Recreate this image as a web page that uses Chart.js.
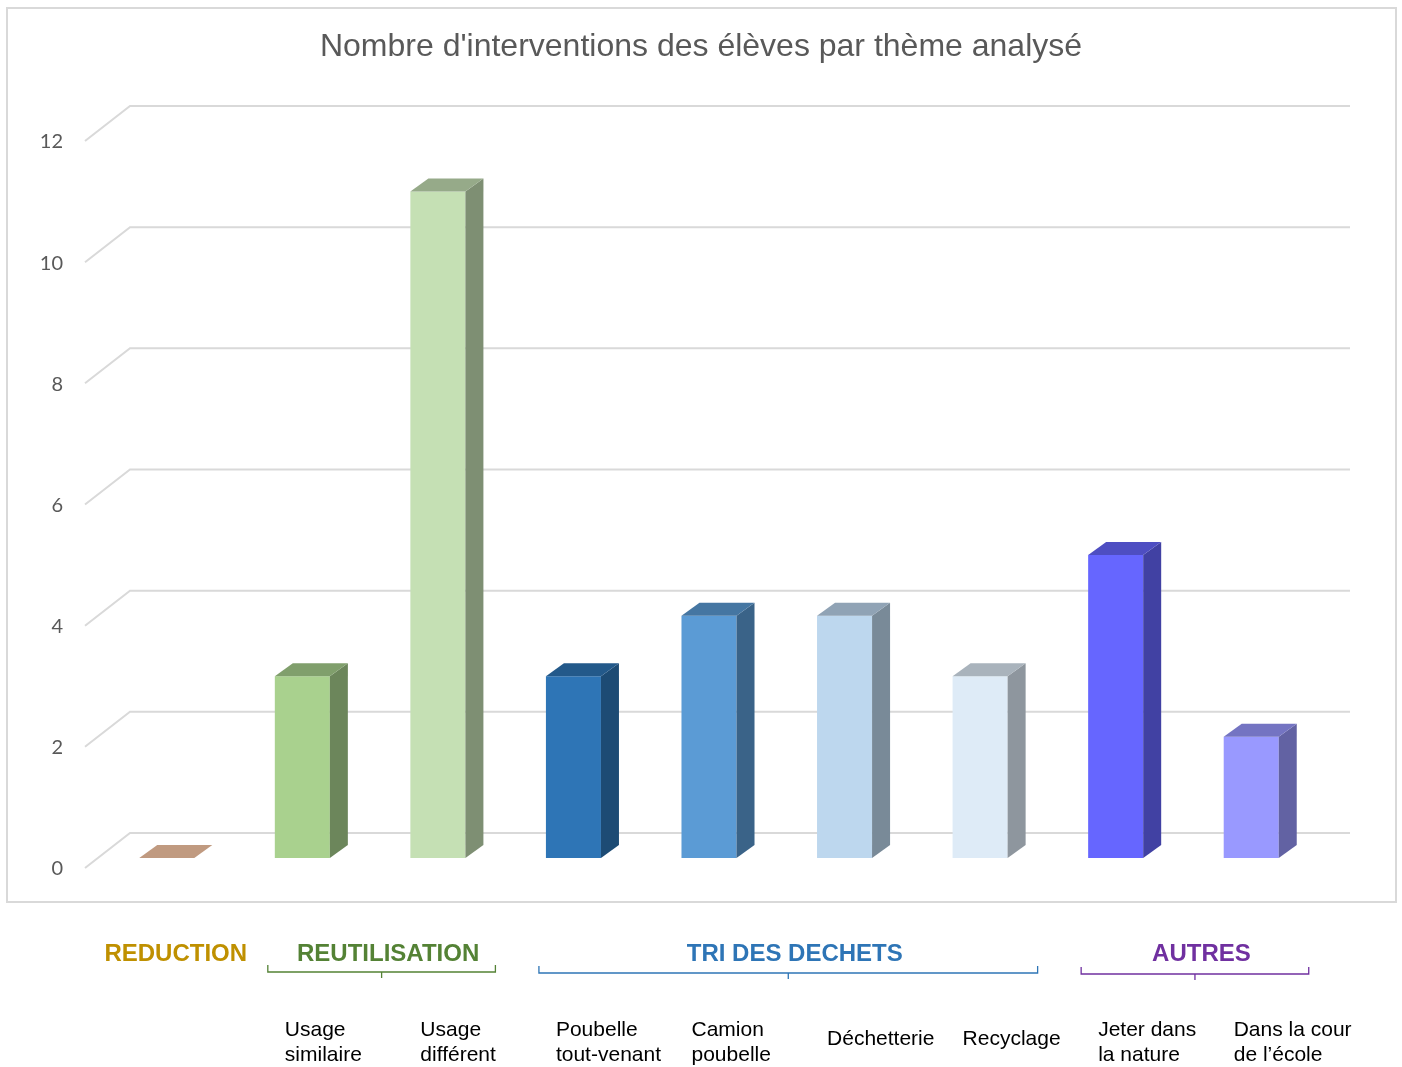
<!DOCTYPE html>
<html>
<head>
<meta charset="utf-8">
<script src="https://cdn.jsdelivr.net/npm/chart.js@4"></script>
<style>
html,body{margin:0;padding:0;background:#fff;}
canvas{display:block;}
</style>
</head>
<body>
<canvas id="c" width="1402" height="1067"></canvas>
<script>
// ---- data ----
const chartTitle = "Nombre d'interventions des élèves par thème analysé";
const categories = [
  [],
  ["Usage", "similaire"],
  ["Usage", "différent"],
  ["Poubelle", "tout-venant"],
  ["Camion", "poubelle"],
  ["Déchetterie"],
  ["Recyclage"],
  ["Jeter dans", "la nature"],
  ["Dans la cour", "de l’école"]
];
const values = [0, 3, 11, 3, 4, 4, 3, 5, 2];
const groupNames = ["REDUCTION", "REUTILISATION", "TRI DES DECHETS", "AUTRES"];
const groupFirst = [0, 1, 3, 7];
const groupLast  = [0, 2, 6, 8];
const yTickStep = 2;
const yMax = 12;

// ---- styles ----
const frontColors = ["#C09A80", "#A9D18E", "#C5E0B4", "#2E75B6", "#5B9BD5", "#BDD7EE", "#DEEBF7", "#6666FF", "#9999FF"];
const groupColors = ["#BF9000", "#548235", "#2E75B6", "#7030A0"];
const groupBrace  = [false, true, true, true];

function shade(hex, f) {
  const n = parseInt(hex.slice(1), 16);
  const r = Math.round(((n >> 16) & 255) * f), g = Math.round(((n >> 8) & 255) * f), b = Math.round((n & 255) * f);
  return "rgb(" + r + "," + g + "," + b + ")";
}

const DX = 18, DY = -13;          // bar depth
const WX = 45, WY = -35;          // wall depth (front label point -> back wall)
const FRONT_OFF = 10;             // front floor edge below bar base

const threeD = {
  id: "threeD",
  beforeDatasetsDraw(chart) {
    const ctx = chart.ctx;
    const ys = chart.scales.y;
    ctx.save();
    // outer border
    ctx.strokeStyle = "#d9d9d9";
    ctx.lineWidth = 2;
    ctx.strokeRect(7, 8, 1389, 894);
    // title
    ctx.fillStyle = "#595959";
    ctx.font = "32px 'Liberation Sans', Arial, sans-serif";
    ctx.textAlign = "center";
    ctx.textBaseline = "middle";
    ctx.fillText(chartTitle, 701, 47);
    // walls grid
    const left = chart.chartArea.left - 14;
    const right = chart.chartArea.right + 31;
    ctx.strokeStyle = "#d9d9d9";
    ctx.lineWidth = 2;
    ys.ticks.forEach(t => {
      const yf = ys.getPixelForValue(t.value) + FRONT_OFF;
      const x0 = left, x1 = left + WX, yb = yf + WY;
      ctx.beginPath();
      ctx.moveTo(x0, yf);
      ctx.lineTo(x1, yb);
      ctx.lineTo(right, yb);
      ctx.stroke();
    });
    // tick labels
    ctx.fillStyle = "#595959";
    ctx.font = "20px Lato, 'Open Sans', sans-serif";
    ctx.textAlign = "right";
    ys.ticks.forEach(t => {
      const yf = ys.getPixelForValue(t.value) + FRONT_OFF;
      ctx.fillText(String(t.value), 63, yf + 1);
    });
    ctx.restore();
  },
  afterDatasetsDraw(chart) {
    const ctx = chart.ctx;
    const meta = chart.getDatasetMeta(0);
    ctx.save();
    meta.data.forEach((bar, i) => {
      const p = bar.getProps(["x", "y", "base", "width"], true);
      const l = p.x - p.width / 2, r = p.x + p.width / 2;
      const top = Math.min(p.y, p.base), base = p.base;
      const fc = frontColors[i];
      // side
      if (base - top > 0.5) {
        ctx.fillStyle = shade(fc, 0.64);
        ctx.beginPath();
        ctx.moveTo(r, top);
        ctx.lineTo(r + DX, top + DY);
        ctx.lineTo(r + DX, base + DY);
        ctx.lineTo(r, base);
        ctx.closePath();
        ctx.fill();
      }
      // top
      ctx.fillStyle = (base - top > 0.5) ? shade(fc, 0.76) : fc;
      ctx.beginPath();
      ctx.moveTo(l, top);
      ctx.lineTo(l + DX, top + DY);
      ctx.lineTo(r + DX, top + DY);
      ctx.lineTo(r, top);
      ctx.closePath();
      ctx.fill();
    });

    // group labels and braces
    ctx.textAlign = "center";
    ctx.textBaseline = "middle";
    groupNames.forEach((name, g) => {
      const a = meta.data[groupFirst[g]], b = meta.data[groupLast[g]];
      const gl = a.x - a.width / 2, gr = b.x + b.width / 2 + DX;
      const gc = (gl + gr) / 2;
      ctx.fillStyle = groupColors[g];
      ctx.font = "bold 24px 'Liberation Sans', Arial, sans-serif";
      ctx.fillText(name, gc + (groupBrace[g] ? 9 : 0), 954);
      if (groupBrace[g]) {
        const bl = gl - 7, br = gr + 12, bc = (bl + br) / 2, by = 971 + g;
        ctx.strokeStyle = groupColors[g];
        ctx.lineWidth = 1.3;
        ctx.beginPath();
        ctx.moveTo(bl, by - 7);
        ctx.lineTo(bl, by);
        ctx.lineTo(br, by);
        ctx.lineTo(br, by - 7);
        ctx.moveTo(bc, by);
        ctx.lineTo(bc, by + 6);
        ctx.stroke();
      }
    });

    // category labels
    ctx.fillStyle = "#000000";
    ctx.font = "21px 'Liberation Sans', Arial, sans-serif";
    ctx.textAlign = "left";
    categories.forEach((lines, i) => {
      const bar = meta.data[i];
      const x = bar.x - bar.width / 2 + 10;
      if (lines.length === 1) {
        ctx.fillText(lines[0], x, 1039);
      } else {
        lines.forEach((ln, k) => ctx.fillText(ln, x, 1030 + k * 25));
      }
    });
    ctx.restore();
  }
};

new Chart(document.getElementById("c"), {
  type: "bar",
  data: {
    labels: categories.map(c => c.join(" ")),
    datasets: [{
      data: values,
      backgroundColor: frontColors,
      borderWidth: 0,
      categoryPercentage: 1,
      barPercentage: 0.406
    }]
  },
  options: {
    responsive: false,
    animation: false,
    devicePixelRatio: 1,
    layout: { padding: { left: 99, right: 83, top: 131, bottom: 209 } },
    scales: {
      x: { display: false },
      y: { display: false, min: 0, max: yMax, ticks: { stepSize: yTickStep } }
    },
    plugins: {
      legend: { display: false },
      title: { display: false },
      tooltip: { enabled: false }
    }
  },
  plugins: [threeD]
});
</script>
</body>
</html>
